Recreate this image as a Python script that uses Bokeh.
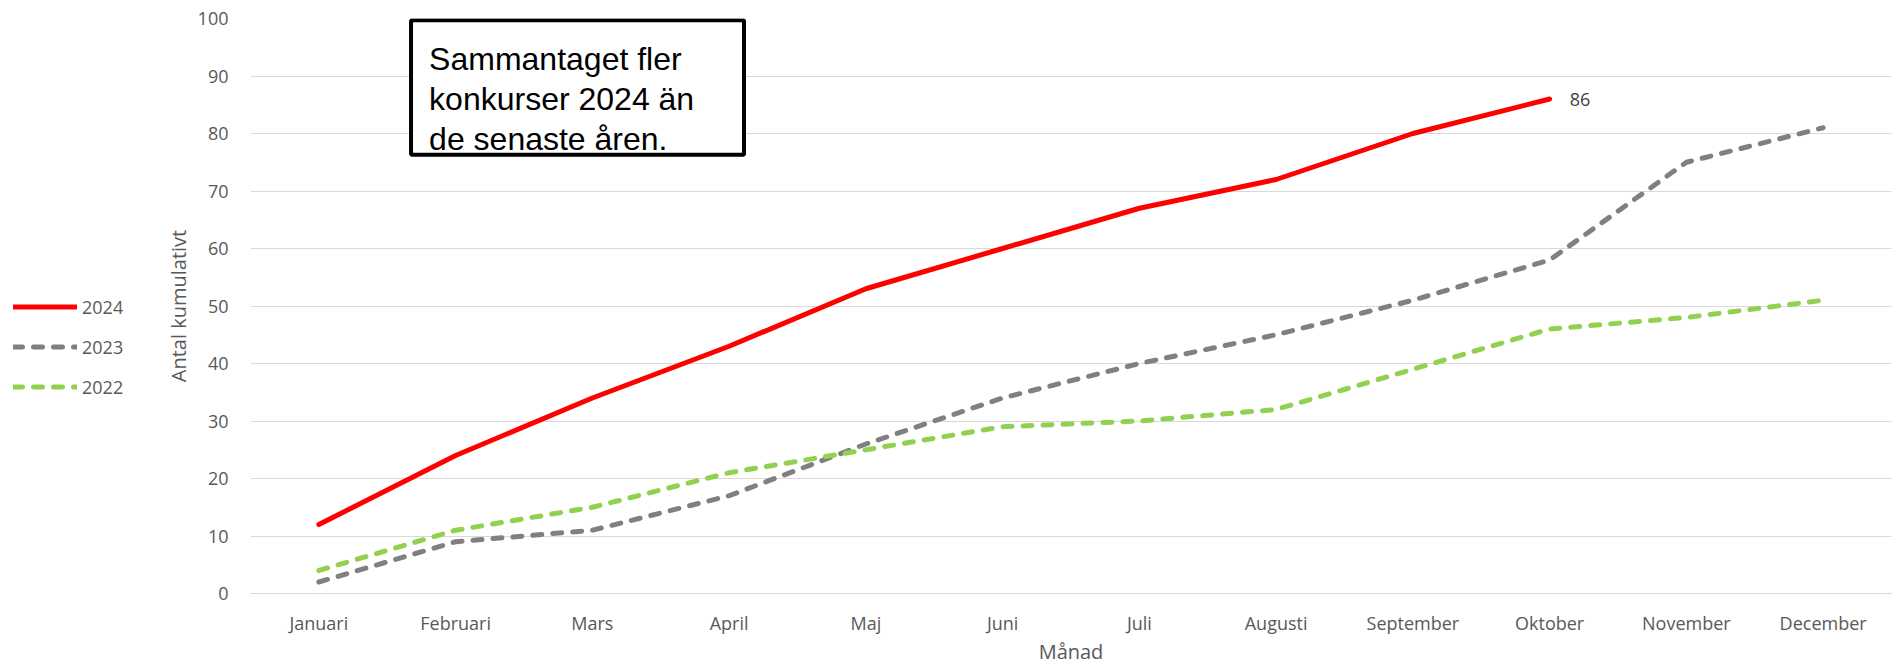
from bokeh.plotting import figure
from bokeh.layouts import row
from bokeh.models import (FixedTicker, Legend, LegendItem, Label, BoxAnnotation, Range1d)
from bokeh.embed import file_html
from bokeh.resources import INLINE

months = ["Januari", "Februari", "Mars", "April", "Maj", "Juni", "Juli",
          "Augusti", "September", "Oktober", "November", "December"]
v2024 = [12, 24, 34, 43, 53, 60, 67, 72, 80, 86]
v2023 = [2, 9, 11, 17, 26, 34, 40, 45, 51, 58, 75, 81]
v2022 = [4, 11, 15, 21, 25, 29, 30, 32, 39, 46, 48, 51]
y_ticks = list(range(0, 101, 10))
series_names = ["2024", "2023", "2022"]
note_lines = ["Sammantaget fler", "konkurser 2024 än", "de senaste åren."]

FONT = "Open Sans"
GREY_TXT = "#595959"
styles = [dict(line_color="#FF0000", line_width=5, line_cap="round", line_join="round"),
          dict(line_color="#808080", line_width=5, line_dash="9 11", line_cap="round", line_join="round"),
          dict(line_color="#92D050", line_width=5, line_dash="9 11", line_cap="round", line_join="round")]

pos = [i + 0.5 for i in range(len(months))]

LEG_W = 150
p = figure(width=1894 - LEG_W, height=667, output_backend="svg", toolbar_location=None,
           x_range=Range1d(0, len(months)), y_range=Range1d(0, 100),
           min_border_left=100, min_border_right=3, min_border_top=18,
           min_border_bottom=74)
p.outline_line_color = None
p.background_fill_color = "white"
p.border_fill_color = "white"

for vals, st in zip([v2024, v2023, v2022], styles):
    p.line(pos[:len(vals)], vals, **st)

# axes
p.xaxis.ticker = FixedTicker(ticks=pos)
p.xaxis.major_label_overrides = {pp: m for pp, m in zip(pos, months)}
p.yaxis.ticker = FixedTicker(ticks=y_ticks)
for ax in (p.xaxis[0], p.yaxis[0]):
    ax.major_tick_line_color = None
    ax.minor_tick_line_color = None
    ax.major_label_text_font = FONT
    ax.major_label_text_font_size = "18px"
    ax.major_label_text_color = GREY_TXT
    ax.axis_label_text_font = FONT
    ax.axis_label_text_font_size = "20px"
    ax.axis_label_text_color = GREY_TXT
    ax.axis_label_text_font_style = "normal"
p.xaxis.axis_line_color = "#D9D9D9"
p.yaxis.axis_line_color = None
p.xaxis.major_label_standoff = 11
p.yaxis.major_label_standoff = 16
p.xaxis.axis_label = "Månad"
p.yaxis.axis_label = "Antal kumulativt"
p.xaxis.axis_label_standoff = 0
p.yaxis.axis_label_standoff = 3

p.xgrid.grid_line_color = None
p.ygrid.grid_line_color = "#D9D9D9"
p.ygrid.grid_line_width = 1

# data label
p.add_layout(Label(x=pos[len(v2024) - 1], y=v2024[-1], text=str(v2024[-1]),
                   x_offset=20, text_baseline="middle", text_align="left",
                   text_font=FONT, text_font_size="18px", text_color="#404040"))

# note box
p.add_layout(BoxAnnotation(left=1.174, right=3.609, bottom=76.3, top=99.7,
                           fill_color="white", fill_alpha=1,
                           line_color="black", line_alpha=1, line_width=4))
for i, t in enumerate(note_lines):
    p.add_layout(Label(x=1.306, y=93.04 - i * 6.957, text=t,
                       text_baseline="alphabetic", text_align="left",
                       text_font="Liberation Sans", text_font_size="32px",
                       text_color="black"))

# legend figure (left strip); its renderers sit outside the visible range
lg = figure(width=LEG_W, height=667, output_backend="svg", toolbar_location=None,
            x_axis_type=None, y_axis_type=None, min_border=0,
            x_range=Range1d(0, 1), y_range=Range1d(0, 1))
lg.outline_line_color = None
lg.xgrid.grid_line_color = None
lg.ygrid.grid_line_color = None
leg_renderers = [lg.line([5, 6], [5, 6], **st) for st in styles]
legend = Legend(items=[LegendItem(label=n, renderers=[r])
                       for n, r in zip(series_names, leg_renderers)],
                location=(13, 194), orientation="vertical",
                glyph_width=64, glyph_height=25, label_height=25, spacing=15,
                padding=0, margin=0, label_standoff=5,
                border_line_color=None, background_fill_alpha=0,
                label_text_font=FONT, label_text_font_size="18px",
                label_text_color=GREY_TXT)
lg.add_layout(legend)

layout = row(lg, p, spacing=0)
open("out.html", "w").write(file_html(layout, INLINE))
